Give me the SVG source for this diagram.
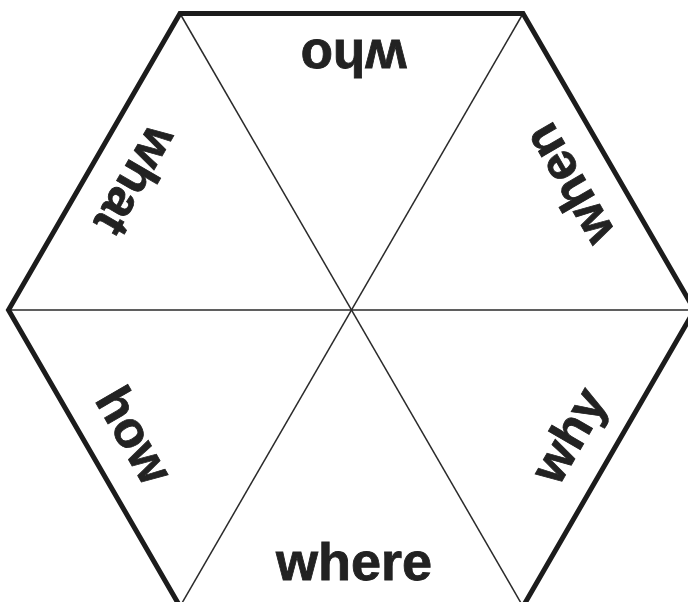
<svg xmlns="http://www.w3.org/2000/svg" width="688" height="602" viewBox="0 0 688 602">
<style>
.edge{fill:none;stroke:#1c1c1c;stroke-width:5;stroke-linejoin:miter}
.thin{stroke:#2a2a2a;stroke-width:1.5}
.lbl{font-family:"Liberation Sans",Arial,sans-serif;font-weight:bold;font-size:51px;fill:#222;stroke:#222;stroke-width:0.8;text-anchor:middle}
</style>
<rect width="688" height="602" fill="#fff"/>
<g id="connectors">
<line class="thin" x1="8" y1="310" x2="695" y2="310"/>
<line class="thin" x1="180" y1="13.5" x2="523" y2="606.5"/>
<line class="thin" x1="523" y1="13.5" x2="180" y2="606.5"/>
</g>
<g id="hexagon">
<polygon class="edge" points="180,13.5 523,13.5 694.5,310 523,606.5 180,606.5 8.5,310"/>
</g>
<g id="where" transform="translate(351.5,310)"><text class="lbl" x="2.5" y="270" textLength="156" lengthAdjust="spacingAndGlyphs">where</text></g>
<g id="who" transform="translate(351.5,310) rotate(180)"><text class="lbl" x="-2" y="270" textLength="106" lengthAdjust="spacingAndGlyphs">who</text></g>
<g id="what" transform="translate(351.5,310) rotate(120)"><text class="lbl" x="-4" y="268" textLength="116" lengthAdjust="spacingAndGlyphs">what</text></g>
<g id="when" transform="translate(351.5,310) rotate(240)"><text class="lbl" x="0" y="268" textLength="130" lengthAdjust="spacingAndGlyphs">when</text></g>
<g id="how" transform="translate(351.5,310) rotate(60)"><text class="lbl" x="0" y="268" textLength="102" lengthAdjust="spacingAndGlyphs">how</text></g>
<g id="why" transform="translate(351.5,310) rotate(-60)"><text class="lbl" x="0" y="268" textLength="100" lengthAdjust="spacingAndGlyphs">why</text></g>
</svg>
